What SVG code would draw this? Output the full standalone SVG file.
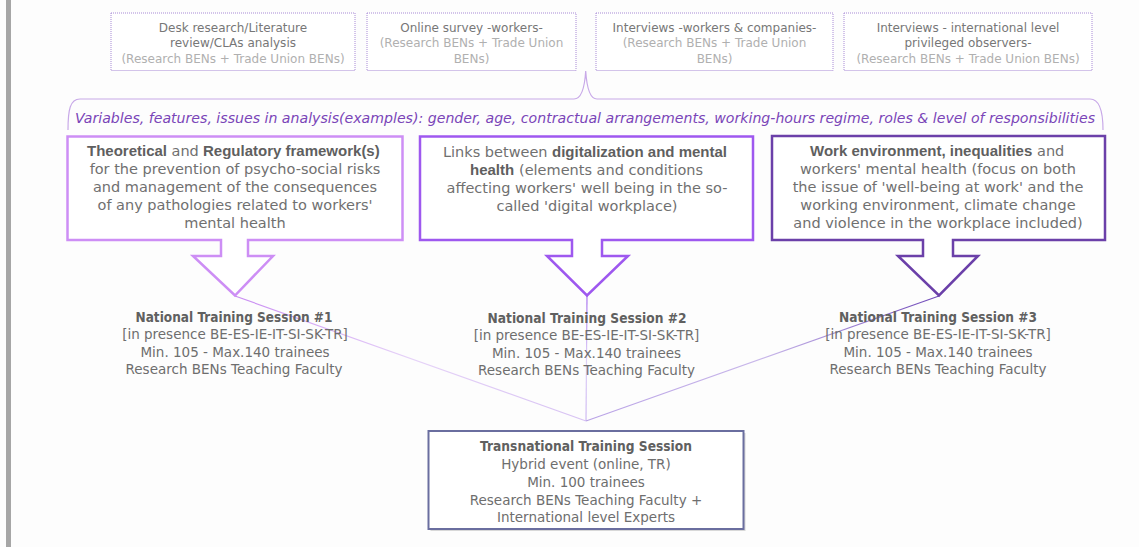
<svg xmlns="http://www.w3.org/2000/svg" width="1139" height="547" viewBox="0 0 1139 547">
<style>
text{font-family:"DejaVu Sans","Liberation Sans",sans-serif;text-anchor:middle}
.top{font-size:12px;fill:#777}
.topl{font-size:12px;fill:#b0b0b0}
.mid{font-size:14.5px;fill:#707070}
.s{text-anchor:start}
.b{font-family:"Liberation Sans","DejaVu Sans",sans-serif;font-size:15px;font-weight:bold;fill:#5f5f5f}
.nat{font-size:13.5px;fill:#6e6e6e}
.natb{font-size:13.5px;font-weight:bold;fill:#606060}
.dot{fill:#fff;stroke:#a88ad6;stroke-width:1;stroke-dasharray:1 1}
.call{fill:#fff;stroke-width:2.5;stroke-linejoin:miter}
</style>
<defs>
<linearGradient id="gl1" gradientUnits="userSpaceOnUse" x1="235" y1="296" x2="586" y2="421"><stop offset="0" stop-color="#c98cf2"/><stop offset="0.5" stop-color="#e6d3f8"/><stop offset="1" stop-color="#d7c2f3"/></linearGradient>
<linearGradient id="gl2" gradientUnits="userSpaceOnUse" x1="587" y1="296" x2="586" y2="421"><stop offset="0" stop-color="#a771ee"/><stop offset="0.5" stop-color="#e0d2f7"/><stop offset="1" stop-color="#cdb8f2"/></linearGradient>
<linearGradient id="gl3" gradientUnits="userSpaceOnUse" x1="939" y1="296" x2="586" y2="421"><stop offset="0" stop-color="#6f49b8"/><stop offset="0.5" stop-color="#c9b8ea"/><stop offset="1" stop-color="#b9a2e6"/></linearGradient>
</defs>
<rect x="0" y="0" width="1139" height="547" fill="#fdfdfd"/>
<rect x="6" y="0" width="5" height="547" fill="#a6a6a6"/>

<g id="connectors" fill="none" stroke-width="1.2">
<line x1="235" y1="296" x2="586" y2="421" stroke="url(#gl1)"/>
<line x1="587" y1="296" x2="586" y2="421" stroke="url(#gl2)"/>
<line x1="939" y1="296" x2="586" y2="421" stroke="url(#gl3)"/>
<path d="M68 130 C68 110 70 99 80 99 L574 99 Q584 99 585.7 71 Q587.5 99 597 99 L1090 99 C1099 99 1103 110 1103 130" stroke="#c8a9e8"/>
</g>

<g id="desk">
<rect class="dot" x="111" y="13" width="244" height="57.5"/>
<text class="top" x="233" y="31.5">Desk research/Literature</text>
<text class="top" x="233" y="47">review/CLAs analysis</text>
<text class="topl" x="233" y="62.5">(Research BENs + Trade Union BENs)</text>
</g>
<g id="survey">
<rect class="dot" x="367" y="13" width="209" height="57.5"/>
<text class="top" x="471.5" y="31.5">Online survey -workers-</text>
<text class="topl" x="471.5" y="47">(Research BENs + Trade Union</text>
<text class="topl" x="471.5" y="62.5">BENs)</text>
</g>
<g id="interviews">
<rect class="dot" x="596" y="13" width="237" height="57.5"/>
<text class="top" x="714.5" y="31.5">Interviews -workers &amp; companies-</text>
<text class="topl" x="714.5" y="47">(Research BENs + Trade Union</text>
<text class="topl" x="714.5" y="62.5">BENs)</text>
</g>
<g id="observers">
<rect class="dot" x="844" y="13" width="248" height="57.5"/>
<text class="top" x="968" y="31.5">Interviews - international level</text>
<text class="top" x="968" y="47">privileged observers-</text>
<text class="topl" x="968" y="62.5">(Research BENs + Trade Union BENs)</text>
</g>

<g id="variables">
<text x="585" y="122.5" style="font-size:14px;font-style:italic;fill:#7a45b8" textLength="1020" lengthAdjust="spacingAndGlyphs">Variables, features, issues in analysis(examples): gender, age, contractual arrangements, working-hours regime, roles &amp; level of responsibilities</text>
</g>

<g id="framework">
<path class="call" stroke="#cd8ef5" d="M67.5 136.5 H402.5 V240 H248 V256 H273 L235 295.5 L193 256 H221 V240 H67.5 Z"/>
<text class="mid s b" x="87" y="156">Theoretical</text>
<text class="mid s" x="171.5" y="156">and</text>
<text class="mid s b" x="203" y="156">Regulatory framework(s)</text>
<text class="mid" x="235" y="174">for the prevention of psycho-social risks</text>
<text class="mid" x="235" y="192">and management of the consequences</text>
<text class="mid" x="235" y="210">of any pathologies related to workers'</text>
<text class="mid" x="235" y="228">mental health</text>
</g>

<g id="digital">
<path class="call" stroke="#9e58ef" d="M420 136.5 H753 V240 H602 V256 H628 L587 295.5 L547 256 H572 V240 H420 Z"/>
<text class="mid s" x="443" y="156.5">Links between</text>
<text class="mid s b" x="552" y="156.5">digitalization and mental</text>
<text class="mid s b" x="470" y="174.5">health</text>
<text class="mid s" x="519" y="174.5">(elements and conditions</text>
<text class="mid" x="587" y="192.5">affecting workers' well being in the so-</text>
<text class="mid" x="587" y="210.5">called 'digital workplace)</text>
</g>

<g id="environment">
<path class="call" stroke="#6b40a9" d="M772 136 H1105 V240 H953 V256 H978 L939 295.5 L898 256 H923 V240 H772 Z"/>
<text class="mid s b" x="810" y="156">Work environment, inequalities</text>
<text class="mid s" x="1037" y="156">and</text>
<text class="mid" x="938" y="174">workers' mental health (focus on both</text>
<text class="mid" x="938" y="192">the issue of 'well-being at work' and the</text>
<text class="mid" x="938" y="210">working environment, climate change</text>
<text class="mid" x="938" y="228">and violence in the workplace included)</text>
</g>

<g id="session1">
<text class="natb" x="234" y="321.5" textLength="197" lengthAdjust="spacingAndGlyphs">National Training Session #1</text>
<text class="nat" x="235" y="339">[in presence BE-ES-IE-IT-SI-SK-TR]</text>
<text class="nat" x="235" y="356.5">Min. 105 - Max.140 trainees</text>
<text class="nat" x="234" y="374">Research BENs Teaching Faculty</text>
</g>
<g id="session2">
<text class="natb" x="587" y="322.5" textLength="199" lengthAdjust="spacingAndGlyphs">National Training Session #2</text>
<text class="nat" x="586.5" y="340">[in presence BE-ES-IE-IT-SI-SK-TR]</text>
<text class="nat" x="586.5" y="357.5">Min. 105 - Max.140 trainees</text>
<text class="nat" x="586.5" y="375">Research BENs Teaching Faculty</text>
</g>
<g id="session3">
<text class="natb" x="938" y="321.5" textLength="198" lengthAdjust="spacingAndGlyphs">National Training Session #3</text>
<text class="nat" x="938" y="339">[in presence BE-ES-IE-IT-SI-SK-TR]</text>
<text class="nat" x="938" y="356.5">Min. 105 - Max.140 trainees</text>
<text class="nat" x="938" y="374">Research BENs Teaching Faculty</text>
</g>

<g id="transnational">
<rect x="430.5" y="433" width="315" height="98" fill="#d8d8d8"/>
<rect x="428.5" y="431" width="315" height="98" fill="#fff" stroke="#6a6e9f" stroke-width="2"/>
<text class="natb" x="586" y="451" textLength="212" lengthAdjust="spacingAndGlyphs">Transnational Training Session</text>
<text class="nat" x="586" y="469">Hybrid event (online, TR)</text>
<text class="nat" x="586" y="487">Min. 100 trainees</text>
<text class="nat" x="586" y="504.5">Research BENs Teaching Faculty +</text>
<text class="nat" x="586" y="522">International level Experts</text>
</g>
</svg>
